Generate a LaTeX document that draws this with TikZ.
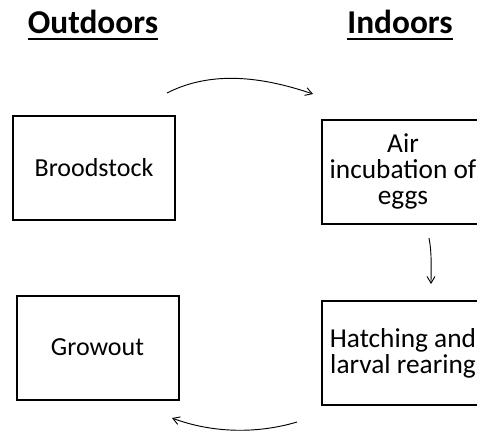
\documentclass[tikz,border=0pt]{standalone}
\usepackage{fontspec}
\setmainfont{Carlito}
\usetikzlibrary{arrows.meta}
\newcommand\ulbold[1]{\setbox0\hbox{\bfseries #1}\rlap{\rule[-5.5pt]{\wd0}{1.5pt}}\box0}

\begin{document}
\begin{tikzpicture}[x=0.75pt,y=0.75pt,yscale=-1,
    stage/.style={draw, line width=1.5pt, minimum width=121.5pt, minimum height=78pt, inner sep=0pt, align=center, font=\fontsize{19.5}{18.5}\selectfont},
    indoorstage/.style={stage, font=\fontsize{20.5}{19.5}\selectfont},
    side/.style={inner sep=0pt, font=\fontsize{25}{29}\selectfont},
    flow/.style={line width=0.7pt, -{Straight Barb[length=5pt,width=6pt]}}]
        \useasboundingbox (0,0) rectangle (477,430);

        % Text Node
        \node[side, anchor=base] (outdoors) at (93,33) {\ulbold{Outdoors}};
        % Text Node
        \node[side, anchor=base] (indoors) at (400,33) {\ulbold{Indoors}};

        %Shape: Rectangle
        \node[stage] (brood) at (94,168) {Broodstock};
        %Shape: Rectangle
        \node[indoorstage] (incub) at (403,171.5) {Air\\incubation of\\eggs};
        %Shape: Rectangle
        \node[indoorstage] (hatch) at (403,353) {Hatching and\\larval rearing};
        %Shape: Rectangle
        \node[stage] (growout) at (97.5,347.5) {Growout};

        %Curve Lines
        \coordinate (top1) at (167,93);
        \coordinate (top2) at (313,94);
        \draw[flow] (top1) .. controls +(45,-23) and +(-50,-17) .. (top2);
        %Curve Lines
        \coordinate (right1) at (429,238);
        \coordinate (right2) at (431,284);
        \draw[flow] (right1) .. controls +(3,15) and +(0,-15) .. (right2);
        %Curve Lines
        \coordinate (bottom1) at (297,422);
        \coordinate (bottom2) at (172,418);
        \draw[flow] (bottom1) .. controls +(-40,12) and +(40,15) .. (bottom2);

    \end{tikzpicture}
\end{document}
